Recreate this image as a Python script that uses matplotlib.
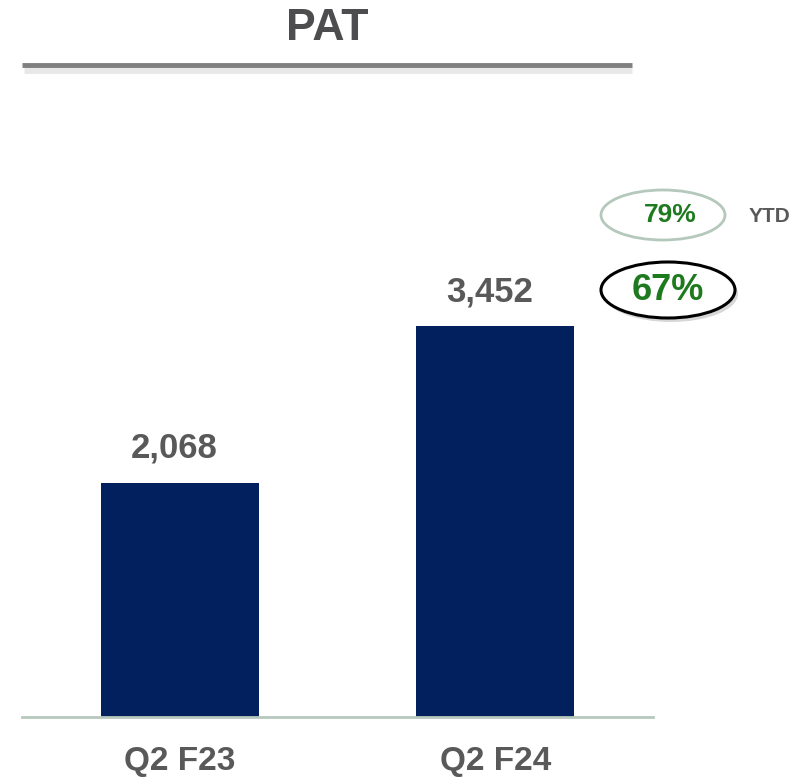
import matplotlib.pyplot as plt
from matplotlib.patches import Ellipse

categories = ["Q2 F23", "Q2 F24"]
pat_values = [2068, 3452]
growth_labels = ["67%", "79%"]
ytd_label = "YTD"
title = "PAT"

plt.rcParams['font.family'] = ['Liberation Sans', 'DejaVu Sans']

W, H = 809, 780
fig = plt.figure(figsize=(W / 100, H / 100), dpi=100)

# main bar axes, placed in pixel terms
left, right, bottom, top = 22, 653, 717, 100
ax = fig.add_axes([left / W, (H - bottom) / H, (right - left) / W, (bottom - top) / H])
x = list(range(len(categories)))
ax.bar(x, pat_values, width=0.5, color="#03205e")
ax.set_xlim(-0.5, 1.5)
ax.set_ylim(0, 5450)
for s in ["top", "right", "left"]:
    ax.spines[s].set_visible(False)
ax.spines["bottom"].set_color("#b7c9bd")
ax.spines["bottom"].set_linewidth(2)
ax.set_yticks([])
ax.set_xticks(x)
ax.set_xticklabels(categories, fontsize=24, fontweight="bold", color="#595959")
ax.tick_params(axis="x", length=0, pad=21)
for xi, v in zip(x, pat_values):
    ax.annotate(f"{v:,}", (xi, v), xytext=(-4, 13), textcoords="offset points",
                ha="center", va="bottom", fontsize=25, fontweight="bold", color="#595959")

# overlay in pixel coords for title and callouts
ov = fig.add_axes([0, 0, 1, 1], facecolor="none")
ov.set_xlim(0, W)
ov.set_ylim(H, 0)
ov.axis("off")

ov.text(327, 29, title, ha="center", va="center", fontsize=32, fontweight="bold",
        color="#4d4d4f")
ov.plot([24, 632], [70, 70], color="#e3e3e3", lw=5, solid_capstyle="butt", alpha=0.8)
ov.plot([22, 632], [65, 65], color="#808080", lw=3.5, solid_capstyle="butt")

# YTD bubble
ov.add_patch(Ellipse((663, 215), 124, 50, facecolor="white", edgecolor="#b5c8bc", lw=2))
ov.text(670, 215, growth_labels[1], ha="center", va="center", fontsize=19,
        fontweight="bold", color="#1e7a1e")
ov.text(769, 217, ytd_label, ha="center", va="center", fontsize=15,
        fontweight="bold", color="#595959")

# quarter bubble with shadow
ov.add_patch(Ellipse((671, 294), 134, 56, facecolor="#bdbdbd", edgecolor="none", alpha=0.6))
ov.add_patch(Ellipse((668, 290), 134, 56, facecolor="white", edgecolor="black", lw=2.2))
ov.text(668, 291, growth_labels[0], ha="center", va="center", fontsize=26,
        fontweight="bold", color="#1e7a1e")

fig.savefig("out.png", dpi=100)
